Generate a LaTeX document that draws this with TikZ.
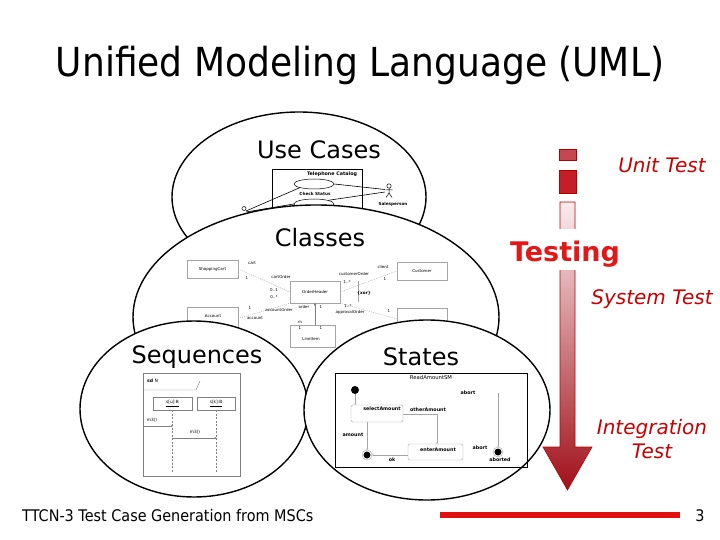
\documentclass[tikz,border=0pt]{standalone}
\usepackage{fontspec}
\setmainfont{DejaVu Sans}
\newfontfamily\narrowfont{DejaVu Sans}[FakeStretch=0.9]
\usetikzlibrary{arrows.meta,shapes.geometric}
\definecolor{tred}{RGB}{200,0,0}
\definecolor{bred}{RGB}{228,22,22}
\definecolor{barred}{RGB}{224,16,16}
\definecolor{lgray}{RGB}{165,165,165}
\definecolor{box1}{RGB}{196,72,82}
\definecolor{box2}{RGB}{196,30,40}
\begin{document}
\begin{tikzpicture}[x=1pt,y=-1pt,
  every node/.style={inner sep=0pt},
  ell/.style={draw, ellipse, line width=1.4pt, fill=white, inner sep=0pt},
  biglbl/.style={font=\fontsize{24}{28}\selectfont, anchor=base},
  tst/.style={text=tred, font=\fontsize{20}{24}\selectfont\itshape, anchor=base},
  tiny/.style={font=\fontsize{4}{5}\selectfont},
  tinyb/.style={font=\fontsize{4.2}{5}\selectfont\bfseries},
  stb/.style={font=\fontsize{4.8}{5.5}\selectfont\bfseries},
  cbox/.style={draw=lgray, line width=0.4pt, font=\fontsize{4}{5}\selectfont},
  cline/.style={draw=lgray, line width=0.4pt, dash pattern=on 1pt off 1pt},
  sline/.style={draw=gray, line width=0.4pt},
  mini/.style={-{To[length=1.5pt,width=2.5pt]}},
  ucl/.style={draw=black, line width=0.6pt},
]
\useasboundingbox (0,0) rectangle (720,540);

% title
\node[font=\narrowfont\fontsize{40}{48}\selectfont, anchor=base] (title) at (360,77) {Unified Modeling Language (UML)};

% ---------- Use cases ----------
\node[ell, minimum width=254pt, minimum height=170pt] (ucE) at (299,197) {};
\node[biglbl] (ucL) at (319,159) {Use Cases};
\draw[ucl, line width=0.8pt] (272,169) rectangle (362,216);
\node[font=\fontsize{4.8}{5.5}\selectfont\bfseries] (ucT) at (332,174) {Telephone Catalog};
\node[ucl, ellipse, minimum width=40pt, minimum height=10pt, line width=0.5pt] (ucA) at (314,184) {};
\node[tinyb] (ucAl) at (315,193.5) {Check Status};
\node[ucl, ellipse, minimum width=40pt, minimum height=10pt, line width=0.5pt] (ucB) at (314,204) {};
\coordinate (sp) at (389,191);
\draw[ucl, line width=0.5pt] (389,186) circle (2.2pt);
\draw[ucl, line width=0.5pt] (389,188.2) -- (389,193) (385.5,190) -- (392.5,190) (386,197.5) -- (389,193) -- (392,197.5);
\node[tinyb] (spl) at (393,204) {Salesperson};
\draw[ucl] (ucA.east) -- (385,189.5);
\draw[ucl] (ucB.north east) -- (385,192);
\coordinate (cu) at (245,212);
\draw[ucl, line width=0.5pt] (244,208.5) circle (2pt);
\draw[ucl] (246,211) -- (ucA.south west);
\draw[ucl] (246,212) -- (ucB.west);

% ---------- Classes ----------
\node[ell, minimum width=366pt, minimum height=224pt] (clE) at (316,317) {};
\node[biglbl] (clL) at (320,247) {Classes};
\node[cbox, minimum width=51pt, minimum height=18pt] (cSC) at (212.5,269) {ShoppingCart};
\node[cbox, minimum width=50pt, minimum height=22pt] (cOH) at (315,292) {OrderHeader};
\node[cbox, minimum width=50pt, minimum height=18pt] (cCU) at (422,271) {Customer};
\node[cbox, minimum width=51pt, minimum height=23pt] (cAC) at (212.5,318.5) {};
\node[tiny] (cACl) at (213,316) {Account};
\node[cbox, minimum width=50pt, minimum height=22pt] (cX) at (422,319) {};
\node[cbox, minimum width=45pt, minimum height=22pt] (cLI) at (312.5,336) {};
\node[tiny] (cLIl) at (311,339) {LineItem};
\draw[cline] (cSC.east) -- (cOH.west);
\draw[cline] (cAC.east) -- (cOH.south west);
\draw[cline] (cOH.east) -- (cCU.west);
\draw[cline] (cOH.south east) -- (cX.west);
\draw[draw=gray, line width=0.5pt, -{Diamond[length=3pt,width=2.5pt]}] (cOH.south |- cLI.north) -- (cOH.south);
\draw[draw=lgray, line width=0.4pt] (358,281) -- (358,302);
\node[tinyb] (xor) at (364,293) {\{xor\}};
\node[tiny] (l1) at (252,263) {cart};
\node[tiny] (l2) at (247,278) {1};
\node[tiny] (l3) at (281,277) {cartOrder};
\node[tiny] (l4) at (274,290) {0..1};
\node[tiny] (l5) at (274,297) {0..*};
\node[tiny] (l6) at (250,308) {1};
\node[tiny] (l7) at (255,318) {account};
\node[tiny] (l8) at (279,310) {accountOrder};
\node[tiny] (l9) at (304,307) {order};
\node[tiny] (l10) at (321,307) {1};
\node[tiny] (l11) at (354,274) {customerOrder};
\node[tiny] (l12) at (383,267) {client};
\node[tiny] (l13) at (347,282) {1..*};
\node[tiny] (l14) at (385,279) {1};
\node[tiny] (l15) at (348,306) {1..*};
\node[tiny] (l16) at (350,312) {approvalOrder};
\node[tiny] (l17) at (389,311) {1};
\node[tiny] (l18) at (300,322) {m};
\node[tiny] (l19) at (300,328) {1};
\node[tiny] (l20) at (321,328) {1};

% ---------- Sequences ----------
\node[ell, minimum width=228pt, minimum height=176pt] (sqE) at (194,409) {};
\node[biglbl] (sqL) at (197,363) {Sequences};
\draw[sline] (143,373) rectangle (240,476);
\draw[sline] (143,390) -- (196,390) -- (200,381);
\node[font=\fontsize{4.6}{5}\selectfont, anchor=west] (sdN) at (147,381) {\textbf{sd} N};
\node[sline, minimum width=39pt, minimum height=13pt, font=\fontsize{4.3}{5}\selectfont] (su) at (172.5,403.5) {\underline{s[u]:B}};
\node[sline, minimum width=38pt, minimum height=13pt, font=\fontsize{4.3}{5}\selectfont] (sk) at (216,403.5) {\underline{s[k]:B}};
\coordinate (seqbot) at (0,472);
\draw[sline, dash pattern=on 2pt off 1.5pt] (su.south) -- (su.south |- seqbot);
\draw[sline, dash pattern=on 2pt off 1.5pt] (sk.south) -- (sk.south |- seqbot);
\coordinate (m1) at (143,426);
\coordinate (m2) at (0,438);
\draw[sline, mini] (m1) -- (m1 -| su.south);
\draw[sline, mini] (m2 -| su.south) -- (m2 -| sk.south);
\node[font=\fontsize{4.3}{5}\selectfont] (m1l) at (152,420) {m3()};
\node[font=\fontsize{4.3}{5}\selectfont] (m2l) at (195,432) {m3()};

% ---------- States ----------
\node[ell, minimum width=246pt, minimum height=180pt] (stE) at (427,410) {};
\node[biglbl] (stL) at (421,365) {States};
\draw[draw=black, line width=1pt] (335,373) rectangle (527,467);
\node[font=\fontsize{5.3}{6}\selectfont] (rsm) at (431,378) {ReadAmountSM};
\node[circle, fill=black, minimum size=8pt] (ini) at (355,390) {};
\node[draw=lgray, line width=0.4pt, rounded corners=1.5pt, minimum width=52pt, minimum height=17pt] (sel) at (377,413.5) {};
\node[stb] (sell) at (382,409) {selectAmount};
\node[draw=lgray, line width=0.4pt, rounded corners=2pt, minimum width=55pt, minimum height=16pt] (ent) at (435.5,452) {};
\node[stb] (entl) at (438,450) {enterAmount};
\node[circle, draw=lgray, fill=white, minimum size=10pt] (fin1) at (367,455) {};
\node[circle, fill=black, minimum size=7pt] (fin1i) at (367,455) {};
\node[circle, draw=lgray, fill=white, minimum size=10pt] (fin2) at (498,452) {};
\node[circle, fill=black, minimum size=7pt] (fin2i) at (498,452) {};
\draw[sline, mini, draw=lgray] (ini) -- (ini |- sel.north);
\coordinate (oa) at (437,414);
\draw[sline, mini, draw=lgray] (sel.east |- oa) -- (oa) -- (oa |- ent.north);
\node[stb] (oal) at (428,410) {otherAmount};
\draw[sline, mini, draw=lgray] (fin1 |- sel.south) -- (fin1.north);
\node[stb] (aml) at (353,435) {amount};
\draw[sline, mini, draw=lgray] (ent.west |- fin1) -- (fin1.east);
\node[stb] (okl) at (392,460) {ok};
\coordinate (ab) at (498,393);
\draw[sline, mini, draw=lgray] (ab) -- (fin2.north);
\node[stb] (abl) at (468,393) {abort};
\node[stb] (ab2) at (480,448) {abort};
\node[stb] (abd) at (500,460) {aborted};

% ---------- Testing arrow ----------
\fill[box1, draw=red!70!black, line width=0.4pt] (559,149) rectangle (576,160);
\fill[box2, draw=red!70!black, line width=0.4pt] (559,170) rectangle (576,193);
\shade[top color={rgb,255:red,250;green,236;blue,238}, bottom color={rgb,255:red,160;green,16;blue,26}, draw=red!75!black, line width=0.6pt]
  (560,202) -- (575,202) -- (575,447) -- (592,447) -- (567.5,490) -- (543,447) -- (560,447) -- cycle;
\fill[white] (556,229) rectangle (579,270);
\node[anchor=base, text=bred, font=\bfseries\fontsize{27}{32}\selectfont] (testing) at (565,261) {Testing};
\node[tst] (unit) at (662,173) {Unit Test};
\node[tst] (sys) at (652,304) {System Test};
\node[tst] (integ) at (652,434) {Integration};
\node[tst] (integ2) at (652,458) {Test};

% ---------- footer ----------
\node[anchor=base west, font=\narrowfont\fontsize{16}{19}\selectfont] (foot) at (22,521) {TTCN-3 Test Case Generation from MSCs};
\node[anchor=base, font=\narrowfont\fontsize{16}{19}\selectfont] (pg) at (700,521) {3};
\fill[barred] (440,512) rectangle (680,518);
\end{tikzpicture}
\end{document}
